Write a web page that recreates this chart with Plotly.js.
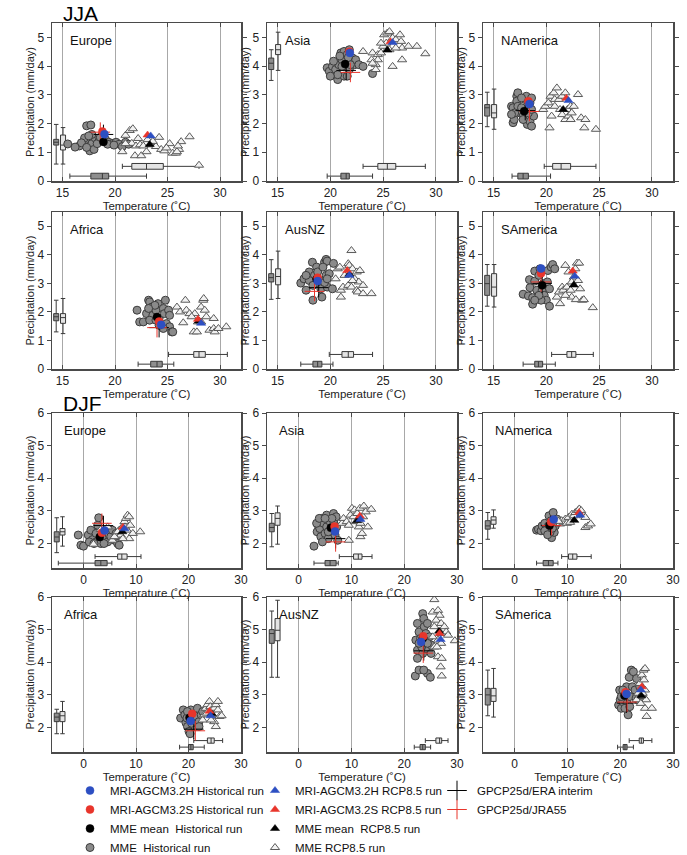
<!DOCTYPE html>
<html>
<head>
<meta charset="utf-8">
<script src="https://cdn.plot.ly/plotly-3.0.1.min.js"></script>
<style>
  html, body { margin: 0; padding: 0; background: #fff; }
  #chart { width: 687px; height: 855px; }
</style>
</head>
<body>
<div id="chart"></div>
<script>
// ---- Regional temperature (degC) vs precipitation (mm/day), per model run ----
// Panel order: JJA Europe, Asia, NAmerica, Africa, AusNZ, SAmerica, then DJF in the same order.
const seasonNames = ['JJA', 'DJF'];
const regionNames = ['Europe', 'Asia', 'NAmerica', 'Africa', 'AusNZ', 'SAmerica'];

// MME members, historical (circles) and RCP8.5 (triangles)
const jjaEuropeHistT = [15.5,16.6,17.3,17.7,17.4,17.5,17.6,17.8,18.1,18.5,18.8,19.1,19.4,19.8,20.1,20.4,18.0,17.1,16.8,17.3,17.8,18.3,19.3,17.5,19.9,21.0,16.2,18.6,20.7,21.3];
const jjaEuropeHistP = [1.29,1.22,1.92,1.95,1.43,1.2,1.05,1.3,1.5,1.42,1.6,1.44,1.35,1.31,1.35,1.28,1.1,1.5,1.33,1.17,1.62,1.3,1.28,1.57,1.25,1.35,1.18,1.52,1.2,1.28];
const jjaEuropeRcpT = [20.7,21.0,21.4,21.7,21.6,22.0,21.9,22.5,22.4,23.0,23.4,23.9,24.2,24.4,24.7,25.2,25.5,25.8,26.1,26.3,27.1,28.0,21.0,22.2,22.7,23.1,23.6,24.9,25.9,26.0];
const jjaEuropeRcpP = [1.02,1.59,1.76,1.82,1.31,1.22,0.88,0.88,1.26,1.02,1.26,1.2,1.52,1.1,1.05,1.3,0.97,0.97,1.1,1.37,1.54,0.55,1.3,1.48,1.22,1.44,1.38,1.15,1.02,1.22];

const jjaAsiaHistT = [19.7,19.9,20.2,20.5,20.7,20.8,21.1,21.0,21.3,21.6,21.8,21.5,21.8,21.3,22.1,22.3,22.4,22.7,23.1,20.3,20.7,20.0,21.6,21.9,21.1,24.0,20.9,21.7];
const jjaAsiaHistP = [3.94,3.82,3.99,3.88,3.53,4.05,4.22,4.46,4.51,4.4,4.57,4.05,3.88,3.65,4.28,4.05,4.22,4.05,3.99,4.17,3.7,3.65,3.65,4.05,3.99,3.74,4.35,4.3];
const jjaAsiaRcpT = [23.1,24.0,24.5,24.8,25.1,25.4,25.6,25.9,26.2,26.6,26.7,26.8,27.4,28.2,29.0,26.8,25.9,24.3,24.3,24.5,25.0,25.3,25.6,26.2,24.8,23.9,24.0];
const jjaAsiaRcpP = [4.51,4.46,4.4,4.46,5.09,5.15,5.2,4.98,4.92,5.09,4.86,4.63,4.69,4.69,4.43,4.22,3.99,4.05,3.88,4.22,4.69,4.8,4.57,4.63,4.8,4.22,4.1];

const jjaNAmericaHistT = [16.85,16.95,16.7,16.85,17.2,17.3,17.2,17.3,17.5,17.65,17.8,17.95,18.1,18.2,18.45,18.6,18.8,18.45,18.1,17.65,17.0,16.7,17.8,18.3,18.6,18.6];
const jjaNAmericaHistP = [2.03,2.14,2.6,2.55,2.95,3.07,2.78,2.6,2.37,2.55,2.26,2.84,2.43,1.97,2.08,1.91,2.26,2.72,2.95,2.89,2.37,2.32,2.14,2.37,2.49,2.89];
const jjaNAmericaRcpT = [19.7,19.9,20.2,20.4,20.7,20.8,21.0,20.8,20.5,20.3,21.2,21.3,21.5,21.8,22.1,22.0,22.3,22.6,22.4,22.3,21.5,23.0,23.3,23.6,23.7,24.7,21.8];
const jjaNAmericaRcpP = [2.49,2.6,2.72,2.95,3.07,2.84,3.24,2.6,2.26,1.85,2.84,2.49,2.31,2.14,2.26,2.49,2.6,2.6,2.37,2.14,2.95,3.01,2.2,1.85,2.14,1.8,3.07];

const jjaAfricaHistT = [22.1,22.35,22.7,23.0,23.2,23.3,23.5,23.6,23.3,23.9,24.1,24.2,24.6,24.7,24.9,25.1,25.2,25.2,25.4,25.5,24.6,23.8,23.2,23.9,24.2,24.8];
const jjaAfricaHistP = [2.06,1.65,1.65,1.94,2.41,2.35,2.17,1.88,1.71,2.06,2.29,1.77,2.12,1.94,1.59,2.06,1.88,1.48,1.3,1.3,1.42,2.23,2.12,1.71,1.53,2.41];
const jjaAfricaRcpT = [25.9,26.2,26.5,26.7,26.8,27.1,27.5,27.8,27.6,27.9,28.2,28.4,28.45,28.55,28.7,29.0,29.4,29.5,29.4,29.85,30.6,28.2,27.3];
const jjaAfricaRcpP = [2.17,2.0,1.62,2.41,2.06,1.94,1.3,1.3,1.94,1.65,2.17,2.41,2.47,2.06,1.83,1.36,1.42,1.3,1.77,1.42,1.48,1.65,1.83];

const jjaAusNZHistT = [17.2,17.5,17.7,18.0,18.3,18.35,18.5,18.7,18.8,19.0,19.1,19.2,19.45,19.6,19.7,19.6,19.7,19.9,20.2,19.45,18.0,17.7,18.35,18.8,19.3,19.7,20.3];
const jjaAusNZHistP = [3.01,3.16,2.76,3.4,3.74,2.41,3.28,3.57,2.99,3.1,2.81,2.52,3.74,3.84,3.78,3.28,2.87,3.34,2.81,3.03,3.1,3.28,2.93,3.4,3.57,3.16,3.7];
const jjaAusNZRcpT = [20.7,20.9,20.5,21.0,21.2,21.0,21.35,21.7,21.8,22.0,22.1,22.3,22.5,22.7,22.8,21.7,22.0,22.5,22.6,23.1,23.1,23.9,22.1];
const jjaAusNZRcpP = [3.51,3.57,3.16,2.76,2.87,2.52,3.28,3.69,3.63,4.15,3.51,3.16,3.4,3.05,3.45,2.93,2.87,2.76,2.7,2.64,2.93,2.64,3.1];

const jjaSAmericaHistT = [17.8,18.3,18.45,18.4,18.7,18.9,18.9,19.1,19.3,19.4,19.6,19.7,19.8,20.0,20.1,20.15,20.3,20.45,20.6,20.8,20.3,19.5,18.7,19.3,18.9];
const jjaSAmericaHistP = [2.62,2.56,2.85,3.13,2.5,3.43,3.08,2.76,3.28,3.51,2.76,2.99,2.58,2.41,3.05,3.45,2.81,3.57,3.66,3.51,2.2,2.41,2.27,2.58,2.41];
const jjaSAmericaRcpT = [21.0,21.2,21.5,21.3,21.6,21.8,21.95,22.1,22.3,22.4,22.6,22.75,22.9,23.1,23.0,23.2,22.8,23.4,23.55,24.4,22.4,21.8];
const jjaSAmericaRcpP = [2.52,2.7,2.87,2.29,2.76,3.63,2.87,3.4,2.76,2.52,3.22,3.51,3.71,3.71,3.1,2.81,2.43,2.41,2.43,2.15,3.05,2.58];

const djfEuropeHistT = [-1.0,-0.5,0.0,0.9,1.4,1.7,2.4,2.7,2.9,3.2,3.3,3.6,3.9,4.5,4.6,4.9,5.2,5.5,5.9,6.2,6.5,6.8,2.4,1.1,2.0,3.9];
const djfEuropeHistP = [2.26,1.95,1.92,2.26,2.41,2.12,2.05,2.56,2.79,2.21,2.0,2.36,2.15,2.41,2.05,2.26,2.21,2.41,2.1,2.31,2.0,1.95,2.31,2.05,2.0,2.0];
const djfEuropeRcpT = [1.9,3.3,4.6,5.5,6.2,6.8,7.1,7.5,7.8,8.1,8.4,8.7,8.3,8.7,9.4,10.8,5.9,7.5,6.5,7.9,8.9];
const djfEuropeRcpP = [1.98,2.43,2.51,2.1,2.21,2.41,2.26,2.53,2.67,2.77,2.87,2.82,2.41,2.15,2.31,2.36,2.21,2.15,2.36,2.51,2.56];

const djfAsiaHistT = [2.9,3.5,3.7,4.0,4.2,4.35,4.7,5.0,5.3,5.3,5.6,5.95,6.3,6.6,6.7,6.9,7.1,7.2,7.4,4.5,3.4,3.9,5.6,6.3,5.0];
const djfAsiaHistP = [1.92,2.36,2.56,2.46,2.21,2.77,2.62,2.31,2.87,2.51,2.15,2.67,2.41,2.92,2.62,2.26,2.82,2.51,2.1,2.05,2.62,2.77,2.36,2.77,2.77];
const djfAsiaRcpT = [8.2,8.5,9.1,9.5,9.5,9.8,10.1,10.4,10.6,10.9,11.1,11.4,11.6,11.7,12.0,12.2,12.35,12.7,13.1,13.75,11.7];
const djfAsiaRcpP = [2.62,2.77,2.67,2.1,2.56,2.87,3.08,2.82,3.03,2.67,2.92,2.51,3.08,2.21,2.31,2.82,3.15,2.97,2.51,3.05,2.62];

const djfNAmericaHistT = [4.15,4.5,5.0,5.2,5.7,6.1,6.4,6.5,6.9,7.0,7.3,7.5,7.7,8.0,6.7,5.7,7.15,6.25];
const djfNAmericaHistP = [2.41,2.44,2.39,2.54,2.62,2.44,2.54,2.85,2.7,2.18,2.95,2.34,2.54,2.75,2.34,2.39,2.47,2.27];
const djfNAmericaRcpT = [8.6,8.9,9.25,9.6,9.9,10.2,10.5,10.85,11.2,11.5,12.0,12.25,12.6,13.1,13.4,13.4,13.9,14.4,8.3];
const djfNAmericaRcpP = [2.6,2.7,2.65,2.75,2.62,2.8,2.65,2.9,2.85,2.95,3.01,3.06,3.01,2.85,2.8,2.49,2.54,2.6,2.68];

const djfAfricaHistT = [18.5,19.0,19.3,19.5,19.8,20.1,20.3,20.45,20.8,21.0,21.2,21.4,21.7,22.0,22.4,22.7,19.7,20.6,22.0,19.8];
const djfAfricaHistP = [2.29,2.54,2.39,2.15,2.03,1.88,1.81,2.54,2.39,2.18,2.03,2.34,2.59,2.18,2.39,2.49,2.29,2.13,2.03,2.49];
const djfAfricaRcpT = [22.7,23.0,23.3,23.6,24.0,24.15,24.4,24.6,24.9,25.2,25.6,25.9,26.3,24.9,25.2,24.3,23.5,25.6];
const djfAfricaRcpP = [2.23,2.39,2.59,2.7,2.8,2.64,2.54,2.39,2.59,2.7,2.54,2.34,2.36,2.18,2.03,2.23,2.44,2.8];

const djfAusNZHistT = [22.1,22.8,23.5,23.7,22.5,22.8,22.2,23.1,23.8,24.1,24.4,24.8,22.5,23.5,24.1,25.1,24.4,24.95,23.3,22.5,23.8,22.8,24.4,23.7,25.1];
const djfAusNZHistP = [3.58,3.76,5.49,5.34,5.19,4.93,4.68,4.73,5.09,4.88,5.19,4.78,4.37,4.27,4.42,4.53,3.66,3.54,4.47,4.12,4.68,4.58,4.58,3.76,4.27];
const djfAusNZRcpT = [25.7,25.4,26.4,26.7,26.05,27.0,27.6,27.0,27.95,26.4,25.7,27.0,28.3,29.6,26.4,27.1,26.9,26.2,27.1,25.7,25.4];
const djfAusNZRcpP = [5.92,5.54,5.59,5.44,5.29,5.19,5.09,4.88,4.93,4.68,4.47,4.58,4.83,4.66,4.17,4.12,3.86,4.47,3.58,5.09,4.78];

const djfSAmericaHistT = [19.7,19.9,20.0,20.2,20.5,20.9,21.2,21.3,21.5,21.8,21.7,22.1,22.5,22.3,22.8,23.0,23.4,23.7,24.1,20.2,20.9,21.8,23.1,20.5];
const djfSAmericaHistP = [2.69,3.15,2.85,2.59,2.79,3.05,3.25,2.74,2.39,2.95,3.54,3.76,3.71,3.25,3.15,2.9,2.85,3.25,2.95,2.95,2.59,2.64,3.5,3.15];
const djfSAmericaRcpT = [23.1,23.4,23.7,24.1,24.4,24.7,24.5,24.7,24.4,24.9,24.7,25.0,26.0,23.9,24.25];
const djfSAmericaRcpP = [2.85,3.05,3.35,3.61,3.76,3.81,3.46,3.15,2.95,2.85,2.59,2.34,2.59,2.74,3.05];

// Single runs, ensemble means and observations (one value per panel)
const mriHHistT = [19.0,21.85,18.4,24.4,18.8,19.5,4.0,6.9,7.4,20.4,23.2,21.2];
const mriHHistP = [1.63,4.46,2.68,1.55,3.08,3.52,2.4,2.37,2.74,2.2,4.62,3.03];
const mriSHistT = [18.8,21.8,18.3,24.2,18.8,19.5,3.5,6.8,6.9,20.7,23.6,21.0];
const mriSHistP = [1.72,4.5,2.78,1.66,3.2,3.35,2.33,2.52,2.66,2.42,4.8,3.08];
const mmeHistT = [18.9,21.4,17.9,24.0,18.7,19.6,3.1,6.1,6.6,20.2,23.5,20.8];
const mmeHistP = [1.36,4.07,2.43,1.82,3.15,2.93,2.2,2.48,2.55,2.3,4.73,2.98];
const mriHRcpT = [23.4,25.9,22.1,28.2,21.8,22.7,7.8,11.7,12.4,24.2,26.9,23.9];
const mriHRcpP = [1.57,4.82,2.8,1.6,3.28,3.25,2.45,2.74,2.87,2.36,4.7,3.15];
const mriSRcpT = [23.1,25.7,21.9,27.9,21.6,22.5,7.5,11.6,12.2,24.0,26.7,24.1];
const mriSRcpP = [1.6,4.85,2.88,1.74,3.45,3.43,2.5,2.84,2.95,2.5,4.88,3.25];
const mmeRcpT = [23.3,25.4,21.6,28.0,21.8,22.6,7.4,11.1,11.3,24.4,26.6,24.0];
const mmeRcpP = [1.27,4.56,2.49,1.68,3.32,2.94,2.36,2.7,2.71,2.42,4.95,2.97];
const eraT = [18.9,21.5,18.0,24.2,18.9,19.6,3.8,7.0,6.8,21.0,23.7,21.2];
const eraP = [1.62,3.85,2.45,1.45,2.85,3.0,2.55,2.15,2.55,1.95,4.35,2.75];
const jraT = [18.6,21.9,18.4,24.0,18.5,19.5,3.5,7.0,7.0,21.3,23.6,21.3];
const jraP = [1.7,3.78,2.42,1.45,2.72,3.05,2.62,2.05,2.55,1.9,4.28,2.78];

// Box-plot statistics of the MME spread (lower fence, q1, median, q3, upper fence)
const precipHistLo  = [0.59,3.5,1.89,1.3,2.44,2.2,1.72,1.9,2.13,1.81,3.54,2.36];
const precipHistQ1  = [1.25,3.88,2.26,1.69,3.05,2.58,2.05,2.36,2.44,2.18,4.58,2.69];
const precipHistMed = [1.35,4.1,2.55,1.83,3.2,2.99,2.2,2.49,2.54,2.32,4.88,3.0];
const precipHistQ3  = [1.45,4.28,2.66,1.94,3.34,3.28,2.36,2.62,2.7,2.44,5.0,3.2];
const precipHistHi  = [1.97,4.57,3.09,2.41,3.83,3.66,2.79,2.92,2.95,2.56,5.57,3.76];
const precipRcpLo   = [0.59,3.85,1.8,1.24,2.47,2.17,1.92,1.98,2.47,1.81,3.54,2.32];
const precipRcpQ1   = [1.08,4.4,2.2,1.6,2.95,2.55,2.26,2.56,2.59,2.18,4.66,2.8];
const precipRcpMed  = [1.25,4.57,2.37,1.8,3.24,2.87,2.36,2.77,2.72,2.36,4.98,2.97];
const precipRcpQ3   = [1.6,4.75,2.66,1.94,3.51,3.34,2.46,2.94,2.82,2.49,5.34,3.2];
const precipRcpHi   = [1.86,5.18,3.2,2.47,4.13,3.66,2.82,3.15,3.03,2.8,5.9,3.81];
const tempHistLo  = [15.7,19.7,16.75,22.2,17.2,17.8,-4.8,2.9,4.15,18.3,21.9,19.5];
const tempHistQ1  = [17.7,21.0,17.3,23.4,18.35,18.9,2.2,5.0,5.4,20.0,23.0,20.55];
const tempHistMed = [18.8,21.5,17.8,24.0,18.8,19.25,3.3,5.95,6.4,20.45,23.5,20.9];
const tempHistQ3  = [19.4,21.8,18.3,24.5,19.2,19.65,4.5,7.1,7.3,20.9,24.0,21.3];
const tempHistHi  = [23.0,24.0,20.4,25.6,20.25,20.85,5.4,7.5,8.2,23.0,25.0,22.5];
const tempRcpLo   = [20.7,23.1,19.8,25.1,19.9,20.5,2.2,7.7,8.9,21.0,24.0,21.7];
const tempRcpQ1   = [21.6,24.5,20.6,27.5,21.1,21.95,6.5,10.4,10.2,23.6,26.0,23.6];
const tempRcpMed  = [23.0,25.4,21.4,28.0,21.7,22.4,7.3,11.3,11.0,24.3,26.7,24.0];
const tempRcpQ3   = [24.6,26.2,22.3,28.6,22.2,22.8,8.3,12.0,11.8,24.9,27.1,24.4];
const tempRcpHi   = [28.0,29.0,24.7,30.7,24.0,24.45,10.95,13.9,14.5,26.5,28.3,26.0];

const clouds = [
  [jjaEuropeHistT, jjaEuropeHistP, jjaEuropeRcpT, jjaEuropeRcpP],
  [jjaAsiaHistT, jjaAsiaHistP, jjaAsiaRcpT, jjaAsiaRcpP],
  [jjaNAmericaHistT, jjaNAmericaHistP, jjaNAmericaRcpT, jjaNAmericaRcpP],
  [jjaAfricaHistT, jjaAfricaHistP, jjaAfricaRcpT, jjaAfricaRcpP],
  [jjaAusNZHistT, jjaAusNZHistP, jjaAusNZRcpT, jjaAusNZRcpP],
  [jjaSAmericaHistT, jjaSAmericaHistP, jjaSAmericaRcpT, jjaSAmericaRcpP],
  [djfEuropeHistT, djfEuropeHistP, djfEuropeRcpT, djfEuropeRcpP],
  [djfAsiaHistT, djfAsiaHistP, djfAsiaRcpT, djfAsiaRcpP],
  [djfNAmericaHistT, djfNAmericaHistP, djfNAmericaRcpT, djfNAmericaRcpP],
  [djfAfricaHistT, djfAfricaHistP, djfAfricaRcpT, djfAfricaRcpP],
  [djfAusNZHistT, djfAusNZHistP, djfAusNZRcpT, djfAusNZRcpP],
  [djfSAmericaHistT, djfSAmericaHistP, djfSAmericaRcpT, djfSAmericaRcpP]
];

// ---- page geometry (pixels) ----
const W = 687, H = 855;
const colPx = [[52, 241], [267, 457], [483, 673]];
const rowPx = [[23, 181], [212, 369], [413, 568], [597, 752]];
const px2x = p => p / W;
const px2y = p => 1 - p / H;

const FONT = 'Liberation Sans, Arial, Helvetica, sans-serif';
const BLUE = '#2d4fc2', RED = '#e8352b', BLACK = '#000000';

const traces = [];
const layout = {
  width: W, height: H,
  // fixed page layout: the legends must not push the panels around
  margin: { l: 0, r: 0, t: 0, b: 0, autoexpand: false },
  paper_bgcolor: '#ffffff', plot_bgcolor: '#ffffff',
  font: { family: FONT, color: '#222', size: 11 },
  boxmode: 'overlay',
  hovermode: false,
  showlegend: true,
  annotations: []
};

const legendCommon = {
  xanchor: 'left', yanchor: 'top', orientation: 'v',
  bgcolor: 'rgba(0,0,0,0)', borderwidth: 0,
  font: { family: FONT, size: 11.5, color: '#111' },
  tracegroupgap: 0
};
layout.legend  = Object.assign({}, legendCommon, { x: px2x(70),  y: px2y(776) });
layout.legend2 = Object.assign({}, legendCommon, { x: px2x(255), y: px2y(776) });
layout.legend3 = Object.assign({}, legendCommon, { x: px2x(437), y: px2y(776) });

for (let i = 0; i < 12; i++) {
  const jja = i < 6;
  const row = Math.floor(i / 3), col = i % 3;
  const xa = i === 0 ? 'x' : 'x' + (i + 1);
  const ya = i === 0 ? 'y' : 'y' + (i + 1);
  const first = i === 0;

  layout[i === 0 ? 'xaxis' : 'xaxis' + (i + 1)] = {
    domain: [px2x(colPx[col][0]), px2x(colPx[col][1])],
    anchor: ya,
    range: jja ? [14, 32] : [-6, 30],
    tickvals: jja ? [15, 20, 25, 30] : [0, 10, 20, 30],
    showgrid: true, gridcolor: '#a8a8a8', gridwidth: 1,
    zeroline: false,
    showline: true, linecolor: '#4a4a4a', linewidth: 1.5, mirror: 'ticks',
    ticks: 'inside', ticklen: 4, tickcolor: '#4a4a4a', tickwidth: 1,
    tickfont: { family: FONT, size: 12, color: '#222' },
    title: { text: 'Temperature (˚C)', font: { family: FONT, size: 11.5, color: '#222' }, standoff: 0 },
    fixedrange: true
  };
  layout[i === 0 ? 'yaxis' : 'yaxis' + (i + 1)] = {
    domain: [px2y(rowPx[row][1]), px2y(rowPx[row][0])],
    anchor: xa,
    range: jja ? [0, 5.5] : [1.25, 6],
    tickvals: jja ? [0, 1, 2, 3, 4, 5] : [2, 3, 4, 5, 6],
    showgrid: false, zeroline: false,
    showline: true, linecolor: '#4a4a4a', linewidth: 1.5, mirror: 'ticks',
    ticks: 'outside', ticklen: 4, tickcolor: '#4a4a4a', tickwidth: 1,
    tickfont: { family: FONT, size: 12, color: '#222' },
    title: { text: 'Precipitation (mm/day)', font: { family: FONT, size: 11, color: '#222' }, standoff: 0 },
    fixedrange: true
  };

  // box plots of the ensemble spread: precipitation at the left edge, temperature at the bottom
  const vWidth = jja ? 0.48 : 0.95;
  const hWidth = jja ? 0.2 : 0.16;
  const vPos = jja ? [14.4, 15.05] : [-5.1, -4.0];
  const hPos = jja ? [0.17, 0.51] : [1.4, 1.6];
  const boxLine = { color: '#3a3a3a', width: 1 };
  traces.push({
    type: 'box', xaxis: xa, yaxis: ya, x: [vPos[0]],
    lowerfence: [precipHistLo[i]], q1: [precipHistQ1[i]], median: [precipHistMed[i]],
    q3: [precipHistQ3[i]], upperfence: [precipHistHi[i]],
    width: vWidth, whiskerwidth: 0.9, fillcolor: '#8e8e8e', line: boxLine,
    boxpoints: false, showlegend: false, hoverinfo: 'skip'
  });
  traces.push({
    type: 'box', xaxis: xa, yaxis: ya, x: [vPos[1]],
    lowerfence: [precipRcpLo[i]], q1: [precipRcpQ1[i]], median: [precipRcpMed[i]],
    q3: [precipRcpQ3[i]], upperfence: [precipRcpHi[i]],
    width: vWidth, whiskerwidth: 0.9, fillcolor: '#e4e4e4', line: boxLine,
    boxpoints: false, showlegend: false, hoverinfo: 'skip'
  });
  traces.push({
    type: 'box', orientation: 'h', xaxis: xa, yaxis: ya, y: [hPos[0]],
    lowerfence: [tempHistLo[i]], q1: [tempHistQ1[i]], median: [tempHistMed[i]],
    q3: [tempHistQ3[i]], upperfence: [tempHistHi[i]],
    width: hWidth, whiskerwidth: 0.9, fillcolor: '#8e8e8e', line: boxLine,
    boxpoints: false, showlegend: false, hoverinfo: 'skip'
  });
  traces.push({
    type: 'box', orientation: 'h', xaxis: xa, yaxis: ya, y: [hPos[1]],
    lowerfence: [tempRcpLo[i]], q1: [tempRcpQ1[i]], median: [tempRcpMed[i]],
    q3: [tempRcpQ3[i]], upperfence: [tempRcpHi[i]],
    width: hWidth, whiskerwidth: 0.9, fillcolor: '#e4e4e4', line: boxLine,
    boxpoints: false, showlegend: false, hoverinfo: 'skip'
  });

  const c = clouds[i];
  // MME members
  traces.push({
    type: 'scatter', mode: 'markers', xaxis: xa, yaxis: ya,
    x: c[0], y: c[1], name: 'MME  Historical run',
    legend: 'legend', legendrank: 4, showlegend: first,
    marker: { symbol: 'circle', size: 8, color: '#8a8a8a', line: { color: '#3c3c3c', width: 1 } }
  });
  traces.push({
    type: 'scatter', mode: 'markers', xaxis: xa, yaxis: ya,
    x: c[2], y: c[3], name: 'MME RCP8.5 run',
    legend: 'legend2', legendrank: 4, showlegend: first,
    marker: { symbol: 'triangle-up', size: 8, color: '#f2f2f2', line: { color: '#5a5a5a', width: 1 } }
  });

  // observations
  traces.push({
    type: 'scatter', mode: 'markers', xaxis: xa, yaxis: ya,
    x: [eraT[i]], y: [eraP[i]], name: 'GPCP25d/ERA interim',
    legend: 'legend3', legendrank: 1, showlegend: first,
    marker: { symbol: 'cross-thin-open', size: 14, color: BLACK, line: { color: BLACK, width: 1 } }
  });
  traces.push({
    type: 'scatter', mode: 'markers', xaxis: xa, yaxis: ya,
    x: [jraT[i]], y: [jraP[i]], name: 'GPCP25d/JRA55',
    legend: 'legend3', legendrank: 2, showlegend: first,
    marker: { symbol: 'cross-thin-open', size: 14, color: RED, line: { color: RED, width: 1 } }
  });

  // single-model runs and ensemble means
  const key = (tx, ty, name, sym, color, lg, rank) => ({
    type: 'scatter', mode: 'markers', xaxis: xa, yaxis: ya,
    x: [tx[i]], y: [ty[i]], name: name,
    legend: lg, legendrank: rank, showlegend: first,
    marker: { symbol: sym, size: 8, color: color, line: { color: color, width: 0.5 } }
  });
  traces.push(key(mmeHistT, mmeHistP, 'MME mean  Historical run', 'circle', BLACK, 'legend', 3));
  traces.push(key(mriSHistT, mriSHistP, 'MRI-AGCM3.2S Historical run', 'circle', RED, 'legend', 2));
  traces.push(key(mriHHistT, mriHHistP, 'MRI-AGCM3.2H Historical run', 'circle', BLUE, 'legend', 1));
  traces.push(key(mmeRcpT, mmeRcpP, 'MME mean  RCP8.5 run', 'triangle-up', BLACK, 'legend2', 3));
  traces.push(key(mriSRcpT, mriSRcpP, 'MRI-AGCM3.2S RCP8.5 run', 'triangle-up', RED, 'legend2', 2));
  traces.push(key(mriHRcpT, mriHRcpP, 'MRI-AGCM3.2H RCP8.5 run', 'triangle-up', BLUE, 'legend2', 1));

  // region label inside the panel
  const labelOffset = jja ? 16 : 10;
  layout.annotations.push({
    xref: 'paper', yref: 'paper',
    x: px2x(colPx[col][0] + labelOffset), y: px2y(rowPx[row][0] + 17),
    xanchor: 'left', yanchor: 'middle', showarrow: false,
    text: regionNames[i % 6],
    font: { family: FONT, size: 13, color: '#111' }
  });
}

// season headings
layout.annotations.push({
  xref: 'paper', yref: 'paper', x: px2x(61), y: px2y(13),
  xanchor: 'left', yanchor: 'middle', showarrow: false,
  text: seasonNames[0], font: { family: FONT, size: 21, color: '#000' }
});
layout.annotations.push({
  xref: 'paper', yref: 'paper', x: px2x(61), y: px2y(403),
  xanchor: 'left', yanchor: 'middle', showarrow: false,
  text: seasonNames[1], font: { family: FONT, size: 21, color: '#000' }
});

Plotly.newPlot('chart', traces, layout, { staticPlot: true, displayModeBar: false });
</script>
</body>
</html>
